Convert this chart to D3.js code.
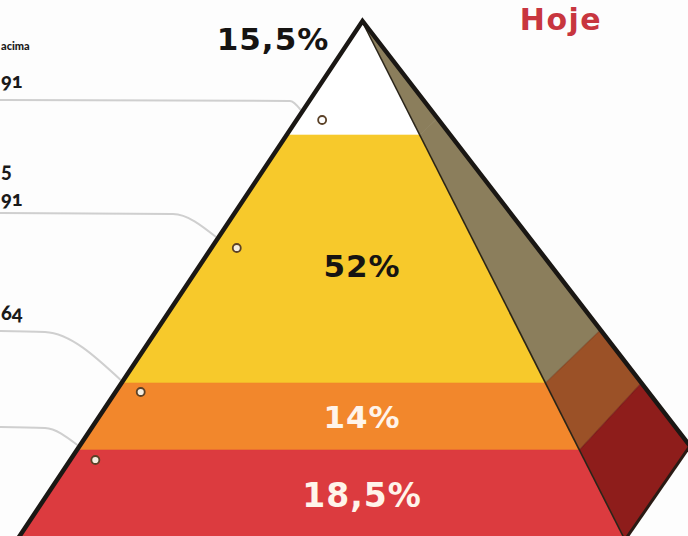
<!DOCTYPE html>
<html><head><meta charset="utf-8">
<script src="https://cdn.jsdelivr.net/npm/d3@7"></script>
<style>
body{margin:0;background:#fff}
svg{display:block}
text{font-family:Lato,"Open Sans",sans-serif;font-weight:900;font-variant-numeric:oldstyle-nums}
text.big{font-family:"DejaVu Sans",sans-serif;font-weight:bold}
</style>
</head><body>
<svg id="c" width="688" height="536"></svg>
<script>
// ---- data ----
const bands = ["topo", "meio-alto", "meio-baixo", "base"];
const shares = [15.5, 52, 14, 18.5];
const shareLabels = ["15,5%", "52%", "14%", "18,5%"];
const title = "Hoje";
const sideLabelsTop = ["acima", "5", "", ""];
const sideLabelsNum = ["91", "91", "64", ""];

// ---- style / layout ----
const frontColors = ["#ffffff", "#f7c92b", "#f2872c", "#dc3b3f"];
const sideColors = ["#8b7e5c", "#8b7e5c", "#9b5127", "#8e1d1b"];
const labelColors = ["#161412", "#161412", "#fff4ea", "#fff4ea"];

const svg = d3.select("#c");
svg.append("rect").attr("width", 688).attr("height", 536).attr("fill", "#fdfdfd");

const cum = [0];
shares.forEach(s => cum.push(cum[cum.length - 1] + s));

const apexY = 22, baseY = 540;
const y = d3.scaleLinear().domain(cum).range([apexY, 135, 383, 450, baseY]);
const leftX = d3.scaleLinear().domain([apexY, baseY]).range([362.5, 17]);
const rightX = d3.scaleLinear().domain([apexY, baseY]).range([362.5, 625]);
const outerX = d3.scaleLinear().domain([apexY, 446]).range([362.5, 690]);
const sideY = d3.scaleLinear().domain([apexY, 383, 450, baseY]).range([apexY, 330, 383, 446]);

const line = d3.line();

// side face bands
const g = svg.append("g");
bands.forEach((b, i) => {
  const yt = y(cum[i]), yb = y(cum[i + 1]);
  const pts = [
    [rightX(yt), yt], [rightX(yb), yb],
    [outerX(sideY(yb)), sideY(yb)], [outerX(sideY(yt)), sideY(yt)]
  ];
  g.append("path").attr("d", line(pts) + "Z").attr("fill", sideColors[i])
    .attr("stroke", sideColors[i]).attr("stroke-width", 0.6);
});
[2, 3].forEach(i => {
  const yt = y(cum[i]);
  g.append("path").attr("d", line([[rightX(yt), yt], [outerX(sideY(yt)), sideY(yt)]]))
    .attr("stroke", "#000").attr("stroke-opacity", 0.12).attr("stroke-width", 1.5);
});

// front face bands
bands.forEach((b, i) => {
  const yt = y(cum[i]), yb = y(cum[i + 1]);
  const pts = [[leftX(yt), yt], [rightX(yt), yt], [rightX(yb), yb], [leftX(yb), yb]];
  g.append("path").attr("d", line(pts) + "Z").attr("fill", frontColors[i])
    .attr("stroke", frontColors[i]).attr("stroke-width", 0.6);
});

// outlines
g.append("path").attr("d", line([[rightX(apexY), apexY], [rightX(baseY), baseY]]))
  .attr("stroke", "#2a2418").attr("stroke-width", 1.6).attr("fill", "none");
g.append("path").attr("d", line([[rightX(baseY), baseY], [outerX(sideY(baseY)), sideY(baseY)]]))
  .attr("stroke", "#2a1a14").attr("stroke-width", 3).attr("fill", "none");
g.append("path").attr("d", line([[leftX(baseY), baseY], [leftX(apexY), apexY - 1], [outerX(sideY(baseY)), sideY(baseY)]]))
  .attr("stroke", "#1a1714").attr("stroke-width", 4.5).attr("fill", "none")
  .attr("stroke-linejoin", "miter");

// leader lines & dots (annotation layout)
const leaders = [
  { ly: 100, bend: 290, ey: 110, dy: 120 },
  { ly: 213, bend: 173, ey: 237, dy: 248 },
  { ly: 331, bend: 45, ey: 380, dy: 392 },
  { ly: 427, bend: 45, ey: 445, dy: 460 }
];
const lg = svg.insert("g", "g");
leaders.forEach((d, i) => {
  const ex = leftX(d.ey) - 3;
  lg.append("path")
    .attr("d", d3.line().curve(d3.curveMonotoneX)([[0, d.ly], [d.bend, d.ly + 1], [ex, d.ey]]))
    .attr("stroke", "#cfcfcf").attr("stroke-width", 2).attr("fill", "none");
  svg.append("circle").attr("cx", leftX(d.dy) + 25).attr("cy", d.dy).attr("r", 4)
    .attr("fill", i === 0 ? "#ffffff" : "#f4eee2").attr("stroke", "#5b4127").attr("stroke-width", 1.8);
});

// left labels
const topLabelY = [50, 178, 285];
const numLabelY = [88, 206, 320];
sideLabelsTop.forEach((t, i) => {
  if (!t) return;
  svg.append("text").attr("x", 1).attr("y", topLabelY[i]).text(t)
    .attr("font-size", i === 0 ? 11 : 20).attr("fill", "#1a1a1a");
});
sideLabelsNum.forEach((t, i) => {
  if (!t) return;
  svg.append("text").attr("x", 1).attr("y", numLabelY[i]).text(t)
    .attr("font-size", 20).attr("fill", "#1a1a1a");
});

// percentage labels
shareLabels.forEach((t, i) => {
  const yt = y(cum[i]), yb = y(cum[i + 1]);
  const tx = svg.append("text").attr("class", "big").text(t)
    .attr("font-size", i === 3 ? 33 : 31).attr("letter-spacing", 1)
    .attr("fill", labelColors[i])
    .attr("text-anchor", "middle").attr("dominant-baseline", "central");
  if (i === 0) tx.attr("x", 273).attr("y", 39);
  else tx.attr("x", 362).attr("y", (yt + yb) / 2 + (i === 1 ? 7 : 0));
});

// title
svg.append("text").attr("class", "big").attr("x", 561).attr("y", 30).attr("text-anchor", "middle")
  .attr("font-size", 30).attr("letter-spacing", 1.5).attr("fill", "#c8363f").text(title);
</script>
</body></html>
